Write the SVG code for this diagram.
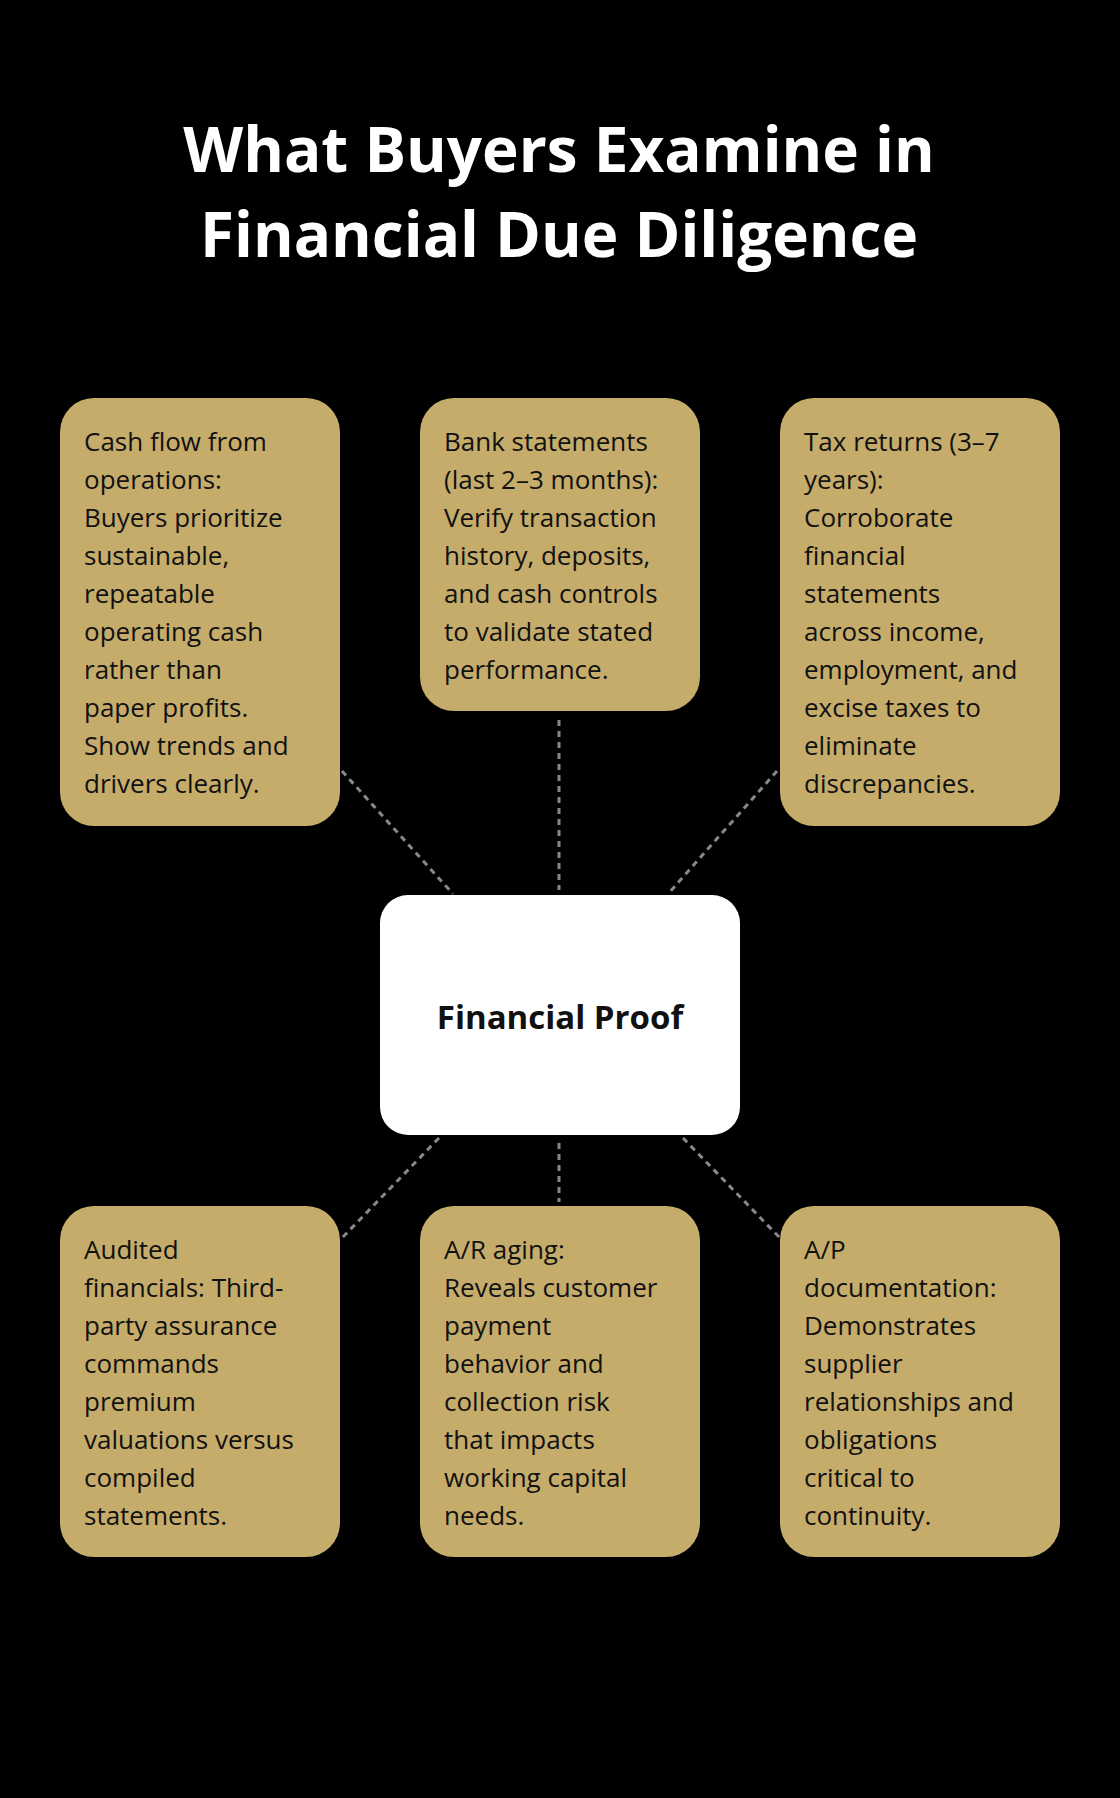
<svg xmlns="http://www.w3.org/2000/svg" width="1120" height="1798" viewBox="0 0 1120 1798">
<style>
.t{font-family:"Open Sans","Noto Sans",sans-serif;font-weight:700;font-size:62px;fill:#fff;text-anchor:middle}
.b{fill:#C5AC6B}
.bt{font-family:"Open Sans","Noto Sans",sans-serif;font-size:26px;fill:#111}
.c{stroke:#888;stroke-width:3;stroke-dasharray:6 5}
</style>
<rect width="1120" height="1798" fill="#000"/>
<text class="t" x="559" y="172">What Buyers Examine in</text>
<text class="t" x="559" y="257">Financial Due Diligence</text>
<g id="connectors" class="c">
<line x1="342" y1="771" x2="453" y2="894"/>
<line x1="559" y1="720" x2="559" y2="890"/>
<line x1="777" y1="771" x2="668" y2="894"/>
<line x1="439" y1="1138" x2="342" y2="1238"/>
<line x1="559" y1="1143" x2="559" y2="1202"/>
<line x1="683" y1="1138" x2="780" y2="1238"/>
</g>
<g id="center"><rect x="380" y="895" width="360" height="240" rx="28" fill="#fff"/>
<text x="560" y="1029" text-anchor="middle" font-family="Open Sans,Noto Sans,sans-serif" font-weight="700" font-size="33" fill="#111">Financial Proof</text></g>
<g id="n1"><rect class="b" x="60" y="398" width="280" height="428" rx="34"/>
<text class="bt" x="84" y="451"><tspan x="84">Cash flow from</tspan><tspan x="84" dy="38">operations:</tspan><tspan x="84" dy="38">Buyers prioritize</tspan><tspan x="84" dy="38">sustainable,</tspan><tspan x="84" dy="38">repeatable</tspan><tspan x="84" dy="38">operating cash</tspan><tspan x="84" dy="38">rather than</tspan><tspan x="84" dy="38">paper profits.</tspan><tspan x="84" dy="38">Show trends and</tspan><tspan x="84" dy="38">drivers clearly.</tspan></text></g>
<g id="n2"><rect class="b" x="420" y="398" width="280" height="313" rx="34"/>
<text class="bt"><tspan x="444" y="451">Bank statements</tspan><tspan x="444" dy="38">(last 2–3 months):</tspan><tspan x="444" dy="38">Verify transaction</tspan><tspan x="444" dy="38">history, deposits,</tspan><tspan x="444" dy="38">and cash controls</tspan><tspan x="444" dy="38">to validate stated</tspan><tspan x="444" dy="38">performance.</tspan></text></g>
<g id="n3"><rect class="b" x="780" y="398" width="280" height="428" rx="34"/>
<text class="bt"><tspan x="804" y="451">Tax returns (3–7</tspan><tspan x="804" dy="38">years):</tspan><tspan x="804" dy="38">Corroborate</tspan><tspan x="804" dy="38">financial</tspan><tspan x="804" dy="38">statements</tspan><tspan x="804" dy="38">across income,</tspan><tspan x="804" dy="38">employment, and</tspan><tspan x="804" dy="38">excise taxes to</tspan><tspan x="804" dy="38">eliminate</tspan><tspan x="804" dy="38">discrepancies.</tspan></text></g>
<g id="n4"><rect class="b" x="60" y="1206" width="280" height="351" rx="34"/>
<text class="bt"><tspan x="84" y="1259">Audited</tspan><tspan x="84" dy="38">financials: Third-</tspan><tspan x="84" dy="38">party assurance</tspan><tspan x="84" dy="38">commands</tspan><tspan x="84" dy="38">premium</tspan><tspan x="84" dy="38">valuations versus</tspan><tspan x="84" dy="38">compiled</tspan><tspan x="84" dy="38">statements.</tspan></text></g>
<g id="n5"><rect class="b" x="420" y="1206" width="280" height="351" rx="34"/>
<text class="bt"><tspan x="444" y="1259">A/R aging:</tspan><tspan x="444" dy="38">Reveals customer</tspan><tspan x="444" dy="38">payment</tspan><tspan x="444" dy="38">behavior and</tspan><tspan x="444" dy="38">collection risk</tspan><tspan x="444" dy="38">that impacts</tspan><tspan x="444" dy="38">working capital</tspan><tspan x="444" dy="38">needs.</tspan></text></g>
<g id="n6"><rect class="b" x="780" y="1206" width="280" height="351" rx="34"/>
<text class="bt"><tspan x="804" y="1259">A/P</tspan><tspan x="804" dy="38">documentation:</tspan><tspan x="804" dy="38">Demonstrates</tspan><tspan x="804" dy="38">supplier</tspan><tspan x="804" dy="38">relationships and</tspan><tspan x="804" dy="38">obligations</tspan><tspan x="804" dy="38">critical to</tspan><tspan x="804" dy="38">continuity.</tspan></text></g>
</svg>
